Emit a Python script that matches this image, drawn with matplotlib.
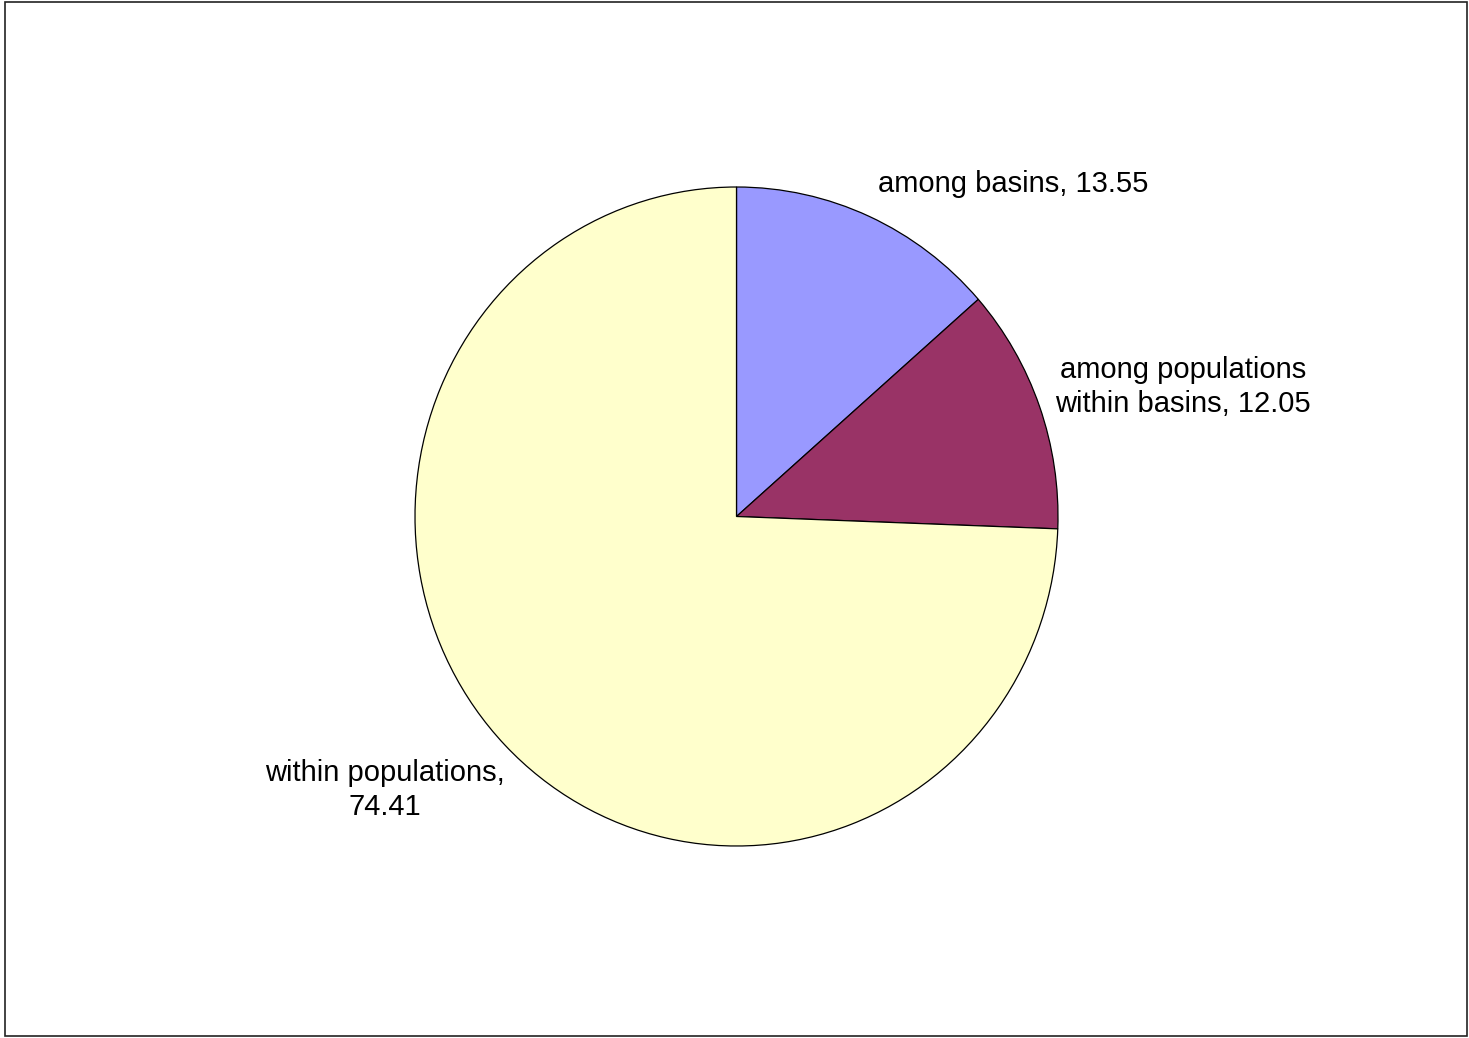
import matplotlib.pyplot as plt
from matplotlib.patches import Rectangle

# ── data ──────────────────────────────────────────────────────────────────────
components = ["among basins", "among populations\nwithin basins", "within populations,\n"]
variance = [13.55, 12.05, 74.41]
colors = ["#9999FF", "#993366", "#FFFFCC"]

W, H = 1469, 1038
plt.rcParams["font.family"] = ["Liberation Sans", "DejaVu Sans"]

fig = plt.figure(figsize=(W / 100, H / 100), dpi=100)

# pie box in pixels (left, top, right, bottom) – slightly taller than wide
left, top, right, bottom = 415, 187, 1058, 846
ax = fig.add_axes([left / W, 1 - bottom / H, (right - left) / W, (bottom - top) / H])
ax.pie(variance, colors=colors, startangle=90, counterclock=False,
       wedgeprops=dict(edgecolor="black", linewidth=0.9))
ax.set_aspect("auto")
ax.set_xlim(-1.0, 1.0)
ax.set_ylim(-1.0, 1.0)
ax.axis("off")

# ── labels ────────────────────────────────────────────────────────────────────
label_pos = [(1013, 184), (1183, 387), (385, 790)]
for name, val, (x, y) in zip(components, variance, label_pos):
    if name.endswith("\n"):
        txt = f"{name}{val:.2f}"
    else:
        txt = f"{name}, {val:.2f}"
    fig.text(x / W, 1 - y / H, txt, ha="center", va="center",
             fontsize=21, linespacing=1.3, color="black")

# outer frame
fig.patches.append(Rectangle((4.5 / W, 1 - 1036 / H), (1467 - 4.5) / W, (1036 - 1.5) / H,
                             transform=fig.transFigure, fill=False,
                             edgecolor="#222222", linewidth=1.2))

fig.savefig("out.png", dpi=100)
